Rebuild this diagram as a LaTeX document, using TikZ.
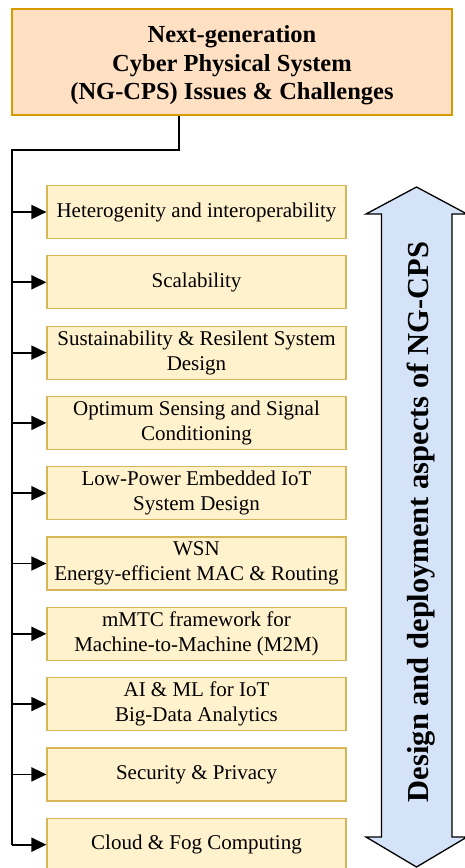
\documentclass[tikz,border=0pt]{standalone}
\usepackage{fontspec}
\setmainfont{Liberation Serif}
\usetikzlibrary{arrows.meta}
\definecolor{peachfill}{HTML}{FFE0C2}
\definecolor{peachline}{HTML}{D79B00}
\definecolor{itemfill}{HTML}{FFF2CC}
\definecolor{itemline}{HTML}{D6B656}
\definecolor{arrowfill}{HTML}{D4E3F8}
\begin{document}
\begin{tikzpicture}[x=1pt,y=-1pt,
  rootbox/.style={draw=peachline,fill=peachfill,line width=1.3pt,minimum width=440pt,minimum height=106pt,inner sep=0pt,align=center,font=\fontsize{24.5}{28.5}\selectfont\bfseries},
  itembox/.style={draw=itemline,fill=itemfill,line width=1.2pt,minimum width=299pt,minimum height=53pt,inner sep=0pt,align=center,font=\fontsize{21}{25}\selectfont},
  link/.style={draw=black,line width=1.8pt},
  feed/.style={link,-{Triangle[length=15pt,width=14pt]}}]
\useasboundingbox (0,0) rectangle (465,868);
\clip (0,0) rectangle (465,868);
\fill[white] (0,0) rectangle (465,868);

% root node
\node[rootbox] (root) at (232,62) {\\[-5pt]Next-generation\\Cyber Physical System\\(NG-CPS) Issues \& Challenges};

% list of issues
\foreach \i/\txt in {
  0/{Heterogenity and interoperability},
  1/{Scalability},
  2/{Sustainability \& Resilent System\\Design},
  3/{Optimum Sensing and Signal\\Conditioning},
  4/{Low-Power Embedded IoT\\System Design},
  5/{WSN\\Energy-efficient MAC \& Routing},
  6/{mMTC framework for\\Machine-to-Machine (M2M)},
  7/{AI \& ML for IoT\\Big-Data Analytics},
  8/{Security \& Privacy},
  9/{Cloud \& Fog Computing}}{
  \node[itembox] (b\i) at (196.5,{212+70.3*\i}) {\txt};
  \coordinate (t\i) at (12,{212+70.3*\i});
}

% trunk from the root down the left side
\coordinate (k1) at (179,150);
\coordinate (k2) at (12,150);
\draw[link] (root.south -| k1) -- (k1) -- (k2) -- (t9);
\foreach \i in {0,...,9}{
  \draw[feed] (t\i) -- (b\i.west);
}

% double-headed block arrow
\draw[fill=arrowfill,line width=1.3pt,line join=miter]
  (416.5,187) -- (467,214) -- (452,214) -- (452,837) -- (467,837) -- (416.5,867)
  -- (366,837) -- (381.5,837) -- (381.5,214) -- (366,214) -- cycle;
\node[rotate=90,font=\fontsize{30.5}{34}\selectfont\bfseries] (side) at (421,522) {Design and deployment aspects of NG-CPS};
\end{tikzpicture}
\end{document}
